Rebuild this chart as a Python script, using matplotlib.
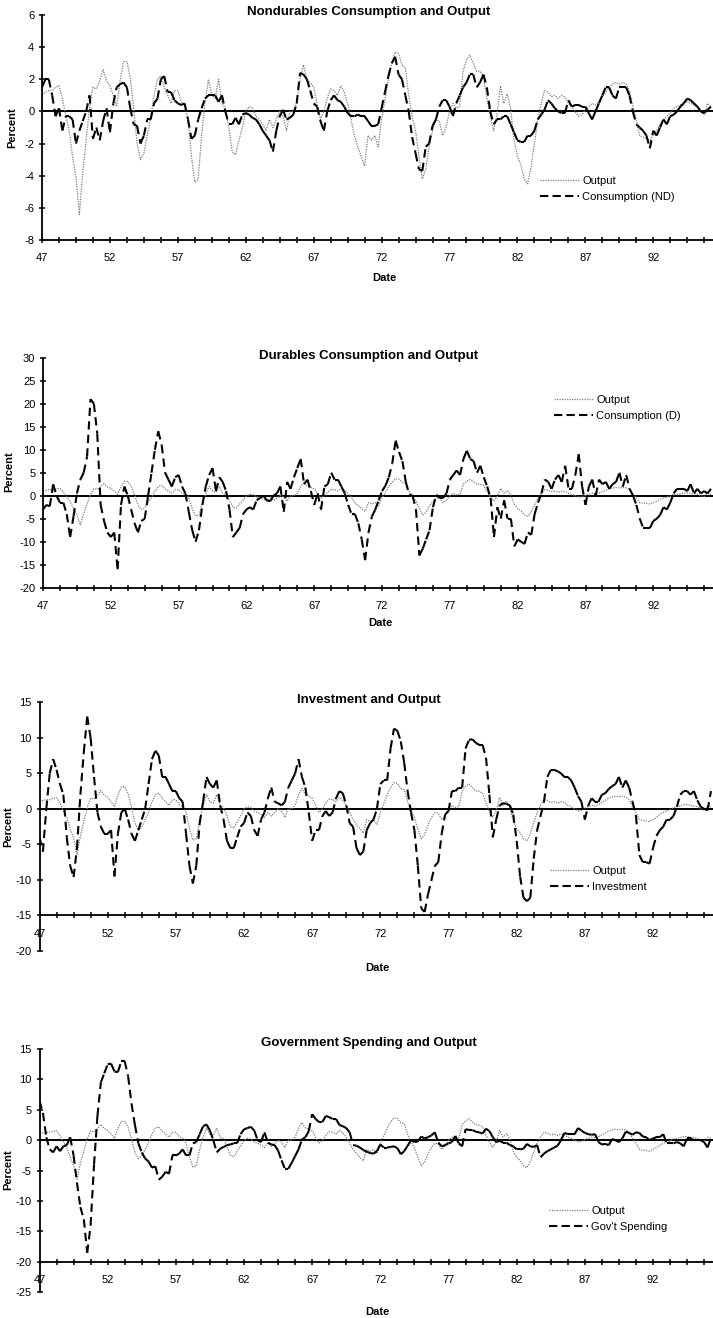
import numpy as np
import matplotlib
matplotlib.use("Agg")
import matplotlib.pyplot as plt
from matplotlib.collections import LineCollection
from matplotlib.lines import Line2D

plt.rcParams['font.family'] = ['Liberation Sans', 'DejaVu Sans']
plt.rcParams['axes.unicode_minus'] = False

# quarterly cyclical components, percent, 1947Q1 - 1996Q2
output = [
    1.0, 1.2, 1.3, 1.3, 1.5, 1.6, 0.8, -0.3,
    -1.2, -2.8, -4.1, -6.4, -3.8, -1.8, 0.2, 1.5,
    1.4, 1.9, 2.6, 1.9, 1.6, 1.0, 0.3, 1.9,
    3.1, 3.1, 2.1, 0.2, -2.0, -3.0, -2.6, -1.5,
    -0.4, 1.0, 2.0, 2.2, 1.5, 1.0, 0.5, 1.3,
    1.3, 0.6, 0.3, -0.5, -2.8, -4.4, -4.2, -1.5,
    0.5, 2.0, 1.0, 0.8, 2.0, 0.5, 0.2, -1.0,
    -2.5, -2.7, -1.8, -1.0, 0.0, 0.3, 0.2, -0.3,
    -0.5, -0.8, -1.2, -0.5, -1.0, -0.5, 0.0, -0.3,
    -1.2, 0.0, 0.0, 0.5, 2.0, 2.9, 2.0, 1.8,
    1.5, 0.5, -0.5, 0.0, 0.8, 1.4, 1.3, 1.0,
    1.6, 1.2, 0.5, -0.5, -1.5, -2.2, -2.8, -3.4,
    -1.5, -1.8, -1.5, -2.2, -0.5, 0.7, 2.0, 3.0,
    3.7, 3.6, 2.9, 2.7, 1.0, -0.3, -1.2, -2.8,
    -4.2, -3.6, -2.2, -1.2, -0.5, -0.6, -1.5, -1.0,
    0.0, 0.5, 0.2, 0.3, 2.5, 3.2, 3.5, 3.0,
    2.5, 2.5, 2.2, 0.8, -0.3, -1.2, -0.2, 1.6,
    0.5, 1.1, 0.2, -1.8, -2.8, -3.3, -4.2, -4.5,
    -3.5, -2.0, -0.5, 0.5, 1.3, 1.2, 0.9, 1.0,
    0.8, 1.0, 0.9, 0.5, 0.3, 0.0, -0.3, -0.2,
    0.1, 0.3, 0.5, 0.4, 0.6, 0.9, 1.2, 1.5,
    1.7, 1.8, 1.7, 1.8, 1.7, 1.3, 0.3, -0.5,
    -1.5, -1.6, -1.7, -1.8, -1.5, -1.2, -0.8, -0.5,
    -0.3, -0.1, 0.2, 0.3, 0.4, 0.6, 0.6, 0.5,
    0.4, 0.3, 0.0, -0.2, 0.5, 0.3,
]

cons_nd = [
    1.5, 2.0, 2.0, 1.0, -0.3, 0.2, -1.2, -0.3,
    -0.3, -0.5, -2.0, -1.2, -0.6, 0.0, 1.0, -1.7,
    -1.0, -1.8, -0.6, 0.2, -1.3, 0.5, 1.5, 1.7,
    1.8, 1.5, 0.2, -0.8, -0.9, -2.0, -1.5, -0.5,
    -0.5, 0.5, 0.8, 2.0, 2.2, 1.2, 1.2, 0.7,
    0.5, 0.4, 0.5, -0.5, -1.7, -1.5, -0.5, 0.2,
    0.8, 1.0, 1.0, 1.0, 0.6, 1.0, 0.0, -0.8,
    -0.8, -0.4, -0.8, -0.2, -0.1, -0.2, -0.4, -0.5,
    -0.8, -1.2, -1.5, -1.8, -2.5, -1.2, -0.3, 0.1,
    -0.5, -0.4, -0.2, 0.5, 2.4, 2.3, 2.0, 1.3,
    0.5, 0.3, -0.6, -1.2, 0.0, 0.7, 1.0, 0.7,
    0.6, 0.3, -0.1, -0.3, -0.3, -0.2, -0.3, -0.3,
    -0.6, -0.9, -0.9, -0.8, 0.2, 1.2, 2.2, 3.0,
    3.4, 2.3, 2.0, 1.0, 0.0, -1.6, -2.6, -3.6,
    -3.7, -2.2, -2.0, -0.9, -0.5, 0.3, 0.7, 0.7,
    0.3, -0.3, 0.5, 1.0, 1.5, 1.8, 2.3, 2.3,
    1.5, 1.8, 2.3, 1.5, 0.0, -0.8, -0.5, -0.5,
    -0.3, -0.3, -0.8, -1.3, -1.8, -1.9, -1.9, -1.5,
    -1.5, -1.2, -0.5, -0.2, 0.1, 0.7, 0.5, 0.2,
    0.0, -0.1, -0.1, 0.7, 0.3, 0.4, 0.4, 0.3,
    0.3, -0.1, -0.5, 0.0, 0.5, 1.0, 1.5, 1.5,
    1.0, 0.8, 1.5, 1.5, 1.5, 1.0, 0.0, -0.8,
    -1.0, -1.2, -1.5, -2.3, -1.2, -1.5, -1.0, -0.5,
    -0.8, -0.3, -0.2, 0.0, 0.3, 0.5, 0.8, 0.7,
    0.5, 0.3, 0.0, -0.1, 0.1, 0.3,
]

cons_d = [
    -3.0, -2.0, -2.3, 2.5, 0.0, -1.5, -1.5, -4.0,
    -9.0, -4.5, 0.5, 3.5, 5.0, 8.5, 21.0, 20.0,
    13.5, -2.0, -5.5, -8.0, -9.0, -8.0, -16.0, -2.0,
    2.0, 0.0, -3.0, -6.0, -8.0, -5.5, -5.0, 0.0,
    5.0, 10.0, 14.0, 11.0, 5.0, 3.5, 2.0, 4.0,
    4.5, 2.0, 0.5, -3.5, -7.5, -10.0, -7.5, -2.0,
    2.0, 4.5, 6.0, 1.0, 4.0, 3.0, 1.0, -3.0,
    -9.0, -8.0, -7.0, -4.0, -3.0, -2.5, -3.0, -1.0,
    -0.5, 0.0, -1.0, -1.2, 0.0, 0.5, 2.0, -3.5,
    3.0, 1.5, 4.0, 6.0, 8.0, 2.5, 3.5, 1.0,
    -2.0, 0.5, -3.0, 2.0, 2.5, 5.0, 3.5, 3.5,
    2.0, 0.5, -2.0, -4.0, -4.0, -6.0, -9.5, -14.0,
    -8.0, -4.5, -3.0, -1.0, 1.0, 2.2, 4.0, 7.0,
    12.0, 9.5, 7.5, 3.0, 0.2, 0.0, -3.0, -13.0,
    -11.5, -9.5, -7.5, -2.5, 0.2, -0.5, -0.5, 0.5,
    3.5, 4.5, 5.5, 4.5, 8.0, 9.8, 8.0, 7.5,
    5.0, 6.5, 4.0, 2.0, -0.5, -9.0, -2.5, -5.0,
    -1.0, -5.0, -5.0, -11.0, -9.5, -10.0, -10.5, -8.0,
    -8.5, -4.0, -1.5, 0.5, 3.5, 3.0, 1.5, 3.5,
    4.5, 3.0, 6.5, 1.5, 1.5, 4.5, 9.0, 2.0,
    -2.0, 2.0, 3.5, 0.0, 3.5, 2.5, 3.0, 1.5,
    2.5, 3.0, 5.0, 2.0, 4.5, 1.5, 0.0, -2.0,
    -5.0, -7.0, -7.0, -7.0, -5.5, -5.0, -4.2, -2.5,
    -3.0, -1.5, 0.5, 1.5, 1.5, 1.5, 1.0, 2.5,
    0.5, 1.5, 0.5, 1.0, 0.5, 1.5,
]

investment = [
    -4.0, -6.0, 0.0, 5.0, 7.0, 5.5, 3.5, 2.0,
    -4.0, -8.0, -9.6, -5.5, 2.0, 8.0, 13.0, 10.0,
    4.5, -0.5, -2.5, -3.5, -3.5, -3.0, -9.5, -3.5,
    -0.5, 0.0, -1.5, -3.5, -4.5, -3.0, -1.5, 0.0,
    3.5, 7.0, 8.2, 7.5, 4.5, 4.5, 3.5, 2.5,
    2.5, 1.5, 1.0, -3.5, -8.0, -10.5, -8.0, -2.0,
    1.0, 4.5, 3.5, 3.0, 4.0, 0.5, -1.5, -4.5,
    -5.5, -5.5, -4.0, -2.5, -2.0, -0.5, -1.0, -3.0,
    -3.8, -1.5, -0.5, 1.5, 3.0, 1.0, 0.8, 0.5,
    1.0, 3.0, 4.0, 5.0, 7.0, 4.5, 3.0, -0.5,
    -4.5, -3.0, -3.0, -1.0, -0.3, -1.0, -0.5, 1.5,
    2.5, 2.2, 0.5, -2.0, -2.5, -5.5, -6.5, -6.0,
    -3.0, -2.0, -1.5, 0.0, 3.5, 4.0, 4.0, 8.5,
    11.3, 11.0, 9.5, 6.5, 2.5, -0.5, -3.0, -8.0,
    -14.0, -14.5, -12.0, -10.0, -8.0, -7.5, -3.5, -0.8,
    -0.3, 2.5, 2.5, 3.0, 3.0, 8.5, 9.7, 9.8,
    9.3, 9.0, 9.0, 7.2, 2.0, -4.0, -1.5, 0.5,
    0.8, 0.7, 0.5, -0.8, -4.5, -9.5, -12.5, -13.0,
    -12.5, -7.0, -3.0, -1.0, 1.0, 4.5, 5.5, 5.5,
    5.3, 5.0, 4.5, 4.5, 4.0, 3.0, 1.8, 1.0,
    -1.5, 0.5, 1.5, 1.0, 1.0, 2.0, 2.2, 2.8,
    3.2, 3.5, 4.5, 3.0, 4.0, 3.0, 1.0, -1.0,
    -6.5, -7.5, -7.5, -7.7, -5.5, -3.8, -3.0, -2.5,
    -1.5, -1.5, -1.0, 0.3, 2.0, 2.5, 2.5, 2.0,
    2.5, 1.2, 0.3, 0.0, -0.2, 2.5,
]

gov = [
    6.5, 4.5, 0.5, -1.5, -2.0, -1.0, -1.8, -1.0,
    -0.8, 0.5, -2.5, -7.0, -11.0, -13.0, -18.5, -14.0,
    -4.0, 4.0, 9.5, 11.0, 12.5, 12.6, 11.3, 11.2,
    13.0, 13.0, 10.5, 6.0, 2.5, -0.5, -2.0, -3.0,
    -3.5, -4.5, -4.3, -6.5, -6.0, -5.2, -5.5, -2.5,
    -2.5, -2.2, -1.5, -2.5, -2.5, -0.5, -0.3, 1.0,
    2.3, 2.6, 1.6, 0.0, -2.0, -1.4, -1.1, -0.8,
    -0.7, -0.5, -0.5, 1.0, 1.8, 2.0, 2.2, 1.6,
    0.0, -0.3, 1.3, -0.4, -0.7, -0.8, -1.7, -3.3,
    -4.7, -4.7, -3.7, -2.6, -1.5, 0.1, 0.5, 1.5,
    4.3, 3.5, 3.0, 3.0, 4.0, 3.8, 3.5, 3.5,
    2.5, 2.3, 2.0, 1.3, -0.8, -0.9, -1.2, -1.6,
    -1.9, -2.1, -2.2, -1.8, -0.7, -1.2, -1.2, -1.1,
    -1.0, -1.3, -2.3, -1.8, -0.9, 0.0, -0.3, -0.2,
    0.6, 0.3, 0.5, 0.8, 1.3, -0.4, -1.0, -0.8,
    -0.5, -0.3, 0.7, -0.5, -1.0, 1.8, 1.7, 1.7,
    1.4, 1.3, 1.1, 1.9, 1.5, 0.5, -0.3, -0.1,
    -0.4, -0.4, -0.8, -1.0, -1.5, -1.5, -1.4, -0.6,
    -1.0, -1.1, -0.8, -2.8, -2.2, -1.8, -1.5, -1.2,
    -0.9, 0.0, 1.2, 1.0, 1.0, 1.0, 2.0, 1.6,
    1.2, 1.0, 0.9, 1.0, -0.3, -0.7, -0.6, -0.8,
    0.2, 0.0, -0.3, 0.3, 1.4, 1.2, 0.9, 1.3,
    1.2, 0.6, 0.5, 0.0, 0.3, 0.5, 0.5, 1.0,
    -0.5, -0.5, -0.5, -0.3, -0.5, -1.0, 0.3, 0.3,
    0.0, 0.0, 0.0, -0.3, -1.2, 0.4,
]

dates = 1947 + np.arange(len(output)) / 4.0

panels = [
    ("Nondurables Consumption and Output", cons_nd, "Consumption (ND)"),
    ("Durables Consumption and Output", cons_d, "Consumption (D)"),
    ("Investment and Output", investment, "Investment"),
    ("Government Spending and Output", gov, "Gov't Spending"),
]

# pixel layout of each panel: left, top, bottom, ymin, ymax, ystep, x-axis crossing
layout = [
    (42, 15, 240, -8, 6, 2, -8),
    (43, 357.7, 587.7, -20, 30, 5, -20),
    (39.5, 702.3, 951, -20, 15, 5, -15),
    (39.5, 1049, 1292.3, -25, 15, 5, -20),
]
title_y = [12, 356, 700, 1043]
date_pos = [(384, 278), (380, 623), (377, 968), (377, 1312)]
percent_pos = [(12, 128), (9.5, 472), (8.5, 827), (8.5, 1170)]
legend_pos = [(540, 176), (554, 395), (550, 866), (549, 1206)]

W, H = 713, 1318
fig = plt.figure(figsize=(W / 100, H / 100), dpi=100)

out_color = '#7d7d7d'
dash = (0, (4, 2.5))

for i, (title, series, label) in enumerate(panels):
    left, top, bottom, ymin, ymax, ystep, cross = layout[i]
    ax = fig.add_axes([left / W, 1 - bottom / H, (W - left) / W, (bottom - top) / H])

    ax.plot(dates, output, color=out_color, lw=0.9, ls=(0, (1, 1)))

    # each quarter is its own segment so the dash pattern restarts,
    # short moves come out solid and big swings dashed
    pts = np.column_stack([dates, series])
    segs = np.stack([pts[:-1], pts[1:]], axis=1)
    lc = LineCollection(segs, colors='k', linewidths=1.5, linestyles=[dash])
    ax.add_collection(lc)

    ax.axhline(0, color='k', lw=1.4, zorder=1)

    ax.set_xlim(1947, 1996.4)
    ax.set_ylim(ymin, ymax)
    ax.set_yticks(np.arange(ymin, ymax + 0.1, ystep))
    xt = 1947 + 1.25 * np.arange(40)
    ax.set_xticks(xt)
    ax.set_xticklabels(['%02d' % (int(round(t)) % 100) if k % 4 == 0 else ''
                        for k, t in enumerate(xt)])

    for s in ['top', 'right']:
        ax.spines[s].set_visible(False)
    ax.spines['bottom'].set_position(('data', cross))
    ax.spines['left'].set_linewidth(1.3)
    ax.spines['bottom'].set_linewidth(1.3)
    ax.tick_params(direction='inout', length=5, width=1.1, labelsize=8)
    ax.tick_params(axis='x', pad=7)
    ax.tick_params(axis='y', pad=3)
    ax.patch.set_visible(False)

    handles = [Line2D([], [], color=out_color, lw=0.9, ls=(0, (1, 1))),
               Line2D([], [], color='k', lw=1.5, ls=(0, (4, 2)))]
    lx, ly = legend_pos[i]
    ax.legend(handles, ['Output', label], loc='upper left',
              bbox_to_anchor=(lx / W, 1 - ly / H), bbox_transform=fig.transFigure,
              frameon=False, fontsize=8, handlelength=3.5, handletextpad=0.3,
              labelspacing=0.55, borderpad=0, borderaxespad=0)

    fig.text(369 / W, 1 - title_y[i] / H, title, ha='center', va='center',
             fontsize=9.5, fontweight='bold')
    dx, dy = date_pos[i]
    fig.text(dx / W, 1 - dy / H, 'Date', ha='center', va='center',
             fontsize=8, fontweight='bold')
    px, py = percent_pos[i]
    fig.text(px / W, 1 - py / H, 'Percent', ha='center', va='center',
             rotation=90, fontsize=8, fontweight='bold')

fig.savefig('out.png', dpi=100)
